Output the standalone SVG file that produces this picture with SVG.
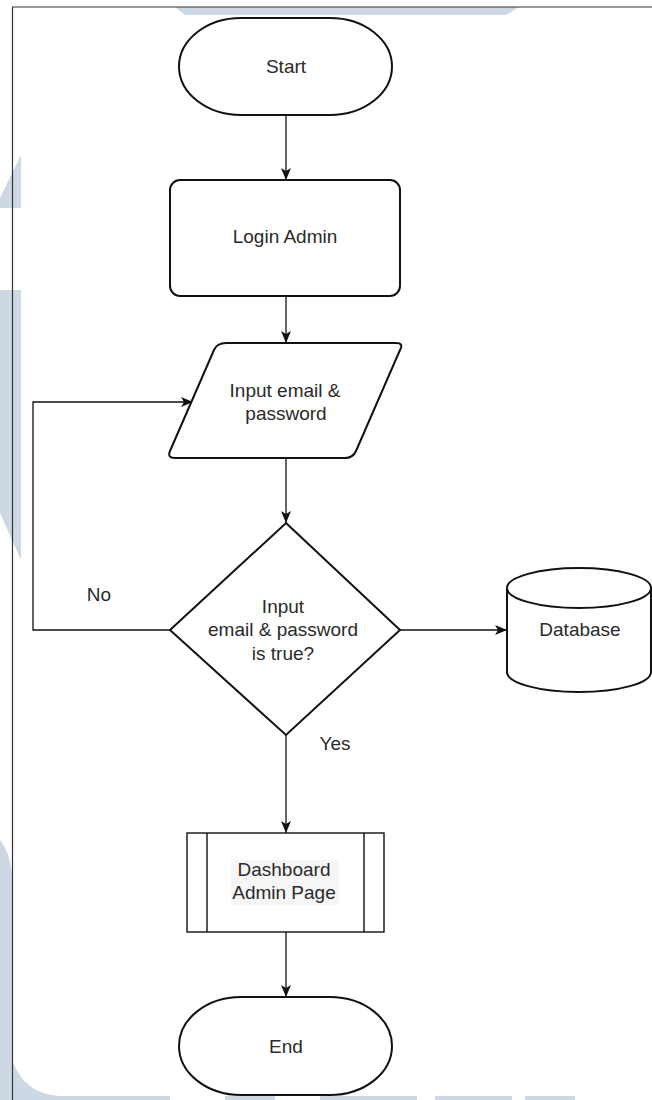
<svg xmlns="http://www.w3.org/2000/svg" width="652" height="1100" viewBox="0 0 652 1100">
<style>
.wm{fill:#cdd8e4;stroke:none}
.frame{fill:none;stroke:#333;stroke-width:1.2}
.node{fill:#fff;stroke:#111;stroke-width:2}
.thin{fill:#fff;stroke:#111;stroke-width:1.4}
.conn{fill:none;stroke:#111;stroke-width:1.3}
text{font-family:"Liberation Sans",Arial,sans-serif;font-size:19px;fill:#2a2a2a;text-anchor:middle}
</style>
<defs>
<marker id="arr" viewBox="0 0 12 10" refX="12" refY="5" markerWidth="12" markerHeight="10" orient="auto" markerUnits="userSpaceOnUse">
<path d="M0,0 L12,5 L0,10 L3,5 Z" fill="#111"/>
</marker>
</defs>
<g id="watermark">
<polygon class="wm" points="175,7 519,7 506,15 185,15"/>
<polygon class="wm" points="21,155 21,208 0,208 0,198"/>
<polygon class="wm" points="0,290 21,290 21,560 0,513"/>
<path class="wm" d="M0,840 C8,850 12,865 12,880 V1100 H0 Z"/>
<path class="wm" d="M12,1060 C20,1080 32,1094 60,1096 H170 V1100 H12 Z"/>
<rect class="wm" x="225" y="1096" width="50" height="4"/>
<rect class="wm" x="320" y="1096" width="97" height="4"/>
<rect class="wm" x="435" y="1096" width="77" height="4"/>
<rect class="wm" x="525" y="1096" width="50" height="4"/>
</g>
<g id="frame">
<path class="frame" d="M652,7 H12.5 V1100"/>
</g>
<g id="connectors">
<path class="conn" d="M286,115 V180" marker-end="url(#arr)"/>
<path class="conn" d="M286,296 V343" marker-end="url(#arr)"/>
<path class="conn" d="M286,458 V523" marker-end="url(#arr)"/>
<path class="conn" d="M170,630 H33 V402 H193" marker-end="url(#arr)"/>
<path class="conn" d="M400,630 H507" marker-end="url(#arr)"/>
<path class="conn" d="M286,735 V833" marker-end="url(#arr)"/>
<path class="conn" d="M286,932 V997" marker-end="url(#arr)"/>
<text x="99" y="601">No</text>
<text x="335" y="750">Yes</text>
</g>
<g id="start">
<rect class="node" x="179" y="18" width="213" height="97" rx="62" ry="48.5"/>
<text x="286" y="73">Start</text>
</g>
<g id="login">
<rect class="node" x="170" y="180" width="230" height="116" rx="10" ry="10"/>
<text x="285" y="243">Login Admin</text>
</g>
<g id="input">
<path class="node" d="M226,343 H396 Q404,343 400,350 L356,451 Q353,458 345,458 H175 Q167,458 170,451 L214,350 Q217,343 226,343 Z"/>
<text x="285" y="397">Input email &amp;</text>
<text x="286" y="420">password</text>
</g>
<g id="decision">
<polygon class="node" points="286,523 400,630 286,735 170,630"/>
<text x="283" y="613">Input</text>
<text x="283" y="636">email &amp; password</text>
<text x="283" y="660">is true?</text>
</g>
<g id="database">
<path class="node" d="M507,588 A72,20 0 0 1 651,588 V672 A72,20 0 0 1 507,672 Z"/>
<path class="node" d="M507,588 A72,20 0 0 0 651,588" fill="none"/>
<text x="580" y="636">Database</text>
</g>
<g id="dashboard">
<rect class="thin" x="187" y="833" width="197" height="99"/>
<line class="thin" x1="207" y1="833" x2="207" y2="932"/>
<line class="thin" x1="364" y1="833" x2="364" y2="932"/>
<rect x="231" y="860" width="108" height="45" fill="#f6f6f6"/>
<text x="284" y="876">Dashboard</text>
<text x="284" y="899">Admin Page</text>
</g>
<g id="end">
<rect class="node" x="179" y="997" width="213" height="98" rx="62" ry="49"/>
<text x="286" y="1053">End</text>
</g>
</svg>
